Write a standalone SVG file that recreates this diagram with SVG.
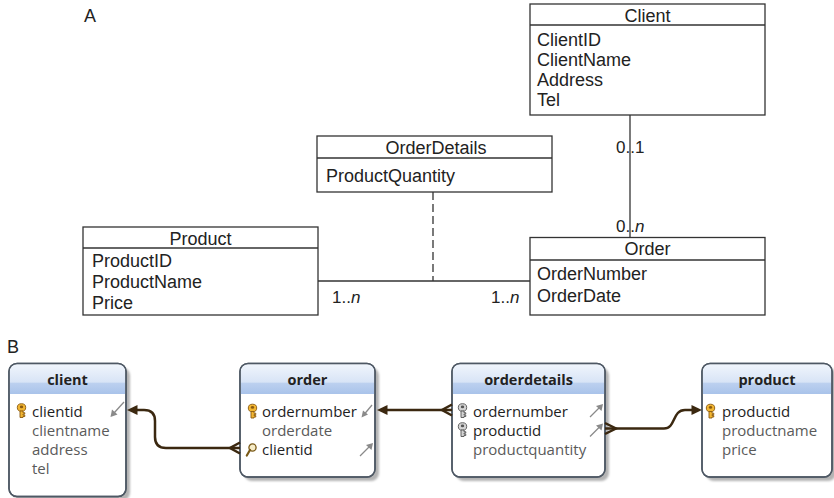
<svg xmlns="http://www.w3.org/2000/svg" width="834" height="498" viewBox="0 0 834 498">
  <style>
    .uml { fill: #ffffff; stroke: #333333; stroke-width: 1.3; }
    .umlline { stroke: #333333; stroke-width: 1.3; fill: none; }
    .ut { font-family: "Liberation Sans", Arial, sans-serif; font-size: 18px; fill: #222222; }
    .mult { font-family: "Liberation Sans", Arial, sans-serif; font-size: 17px; fill: #222222; }
    .panel { font-family: "Liberation Sans", Arial, sans-serif; font-size: 18px; fill: #222222; }
    .tbl { fill: #ffffff; stroke: #4e5864; stroke-width: 1.5; }
    .shadow { fill: #b4b4b4; filter: url(#soft); }
    .th { font-family: "Open Sans", "Noto Sans", sans-serif; font-size: 14.5px; font-weight: bold; fill: #222222; text-anchor: middle; }
    .fk { font-family: "Open Sans", "Noto Sans", sans-serif; font-size: 15px; fill: #1e1e1e; }
    .fd { font-family: "Open Sans", "Noto Sans", sans-serif; font-size: 15px; fill: #5a5a5a; }
    .rel { stroke: #3b2810; stroke-width: 2.5; fill: none; }
    .relhead { fill: #3b2810; }
    .hint { stroke: #8a8a8a; stroke-width: 1.3; fill: none; }
    .hinthead { fill: #8a8a8a; }
  </style>
  <defs>
    <filter id="soft" x="-10%" y="-10%" width="120%" height="120%">
      <feGaussianBlur stdDeviation="1.2"/>
    </filter>
    <linearGradient id="hdr" x1="0" y1="0" x2="0" y2="1">
      <stop offset="0" stop-color="#f0f5fc"/>
      <stop offset="0.6" stop-color="#d8e4f6"/>
      <stop offset="0.64" stop-color="#bcd0ef"/>
      <stop offset="1" stop-color="#a9c3ea"/>
    </linearGradient>
    <g id="key-gold">
      <ellipse cx="4.5" cy="4" rx="4.2" ry="3.8" fill="#f2b632" stroke="#8a5a10" stroke-width="0.9"/>
      <path d="M3 7.5 V14 H6 V13 H7.8 V11.6 H6 V10.6 H7.8 V9.2 H6 V7.5 Z" fill="#f2b632" stroke="#8a5a10" stroke-width="0.9"/>
      <ellipse cx="4.5" cy="3.4" rx="1.7" ry="1.3" fill="#8a5a10"/>
    </g>
    <g id="key-grey">
      <ellipse cx="4.5" cy="4" rx="4.2" ry="3.8" fill="#d4d4d4" stroke="#555555" stroke-width="0.9"/>
      <path d="M3 7.5 V14 H6 V13 H7.8 V11.6 H6 V10.6 H7.8 V9.2 H6 V7.5 Z" fill="#d4d4d4" stroke="#555555" stroke-width="0.9"/>
      <ellipse cx="4.5" cy="3.4" rx="1.7" ry="1.3" fill="#555555"/>
    </g>
    <g id="lens">
      <circle cx="6.5" cy="4.5" r="3.6" fill="#f6ecc8" stroke="#7a5a18" stroke-width="1.3"/>
      <path d="M4 7 L0.8 12.5" stroke="#7a5a18" stroke-width="2.2" stroke-linecap="round"/>
    </g>
  </defs>

  <rect width="834" height="498" fill="#ffffff"/>

  <!-- Panel A: UML class diagram -->
  <text class="panel" x="84" y="22">A</text>

  <g id="uml-connectors">
    <line class="umlline" x1="630" y1="115" x2="630" y2="237.5"/>
    <line class="umlline" x1="318" y1="281" x2="530" y2="281"/>
    <line class="umlline" x1="433" y1="192" x2="433" y2="281" stroke-dasharray="8 4"/>
    <text class="mult" x="616" y="153">0..1</text>
    <text class="mult" x="616" y="232">0..<tspan font-style="italic">n</tspan></text>
    <text class="mult" x="332" y="303">1..<tspan font-style="italic">n</tspan></text>
    <text class="mult" x="491" y="303">1..<tspan font-style="italic">n</tspan></text>
  </g>

  <g id="uml-client">
    <rect class="uml" x="530" y="4" width="235" height="111"/>
    <line class="umlline" x1="530" y1="25" x2="765" y2="25"/>
    <text class="ut" x="647.5" y="21.5" text-anchor="middle">Client</text>
    <text class="ut" x="537" y="46">ClientID</text>
    <text class="ut" x="537" y="66">ClientName</text>
    <text class="ut" x="537" y="86">Address</text>
    <text class="ut" x="537" y="106">Tel</text>
  </g>

  <g id="uml-orderdetails">
    <rect class="uml" x="317" y="136" width="235" height="56"/>
    <line class="umlline" x1="317" y1="158" x2="552" y2="158"/>
    <text class="ut" x="436" y="153.5" text-anchor="middle">OrderDetails</text>
    <text class="ut" x="326" y="181.5">ProductQuantity</text>
  </g>

  <g id="uml-product">
    <rect class="uml" x="83" y="227" width="235" height="88"/>
    <line class="umlline" x1="83" y1="248" x2="318" y2="248"/>
    <text class="ut" x="200.5" y="245" text-anchor="middle">Product</text>
    <text class="ut" x="92" y="267">ProductID</text>
    <text class="ut" x="92" y="287.5">ProductName</text>
    <text class="ut" x="92" y="308.5">Price</text>
  </g>

  <g id="uml-order">
    <rect class="uml" x="530" y="237.5" width="235" height="77.5"/>
    <line class="umlline" x1="530" y1="260" x2="765" y2="260"/>
    <text class="ut" x="647.5" y="254.5" text-anchor="middle">Order</text>
    <text class="ut" x="537" y="279.5">OrderNumber</text>
    <text class="ut" x="537" y="302">OrderDate</text>
  </g>

  <!-- Panel B: database table diagram -->
  <text class="panel" x="7" y="353">B</text>

  <g id="tbl-client">
    <rect class="shadow" x="13" y="367.5" width="117" height="133" rx="8"/>
    <rect class="tbl" x="9" y="363.5" width="117" height="133" rx="8"/>
    <path d="M9.75 394 V371.5 Q9.75 364.25 17 364.25 H118 Q125.25 364.25 125.25 371.5 V394 Z" fill="url(#hdr)"/>
    <rect x="9" y="363.5" width="117" height="133" rx="8" fill="none" stroke="#4e5864" stroke-width="1.5"/>
    <text class="th" x="67.5" y="385">client</text>
    <use href="#key-gold" x="17" y="403.5"/>
    <text class="fk" x="32" y="417">clientid</text>
    <text class="fd" x="32" y="436">clientname</text>
    <text class="fd" x="32" y="455">address</text>
    <text class="fd" x="32" y="473.5">tel</text>
    <line class="hint" x1="124" y1="402" x2="114" y2="413"/>
    <path class="hinthead" d="M110.5 417 L112 409.5 L117.5 414.5 Z"/>
  </g>

  <g id="tbl-order">
    <rect class="shadow" x="244" y="367.5" width="135" height="113.5" rx="8"/>
    <rect class="tbl" x="240" y="363.5" width="135" height="113.5" rx="8"/>
    <path d="M240.75 394 V371.5 Q240.75 364.25 248 364.25 H367 Q374.25 364.25 374.25 371.5 V394 Z" fill="url(#hdr)"/>
    <rect x="240" y="363.5" width="135" height="113.5" rx="8" fill="none" stroke="#4e5864" stroke-width="1.5"/>
    <text class="th" x="307.5" y="385">order</text>
    <use href="#key-gold" x="248" y="404"/>
    <text class="fk" x="262" y="417">ordernumber</text>
    <text class="fd" x="262" y="436">orderdate</text>
    <use href="#lens" x="246" y="443"/>
    <text class="fk" x="262" y="455">clientid</text>
    <line class="hint" x1="372" y1="405" x2="364.5" y2="414"/>
    <path class="hinthead" d="M361.5 417.5 L363 410.5 L368 414.5 Z"/>
    <line class="hint" x1="360" y1="456" x2="369.5" y2="446.5"/>
    <path class="hinthead" d="M373 443 L371.5 450 L366 445 Z"/>
  </g>

  <g id="tbl-orderdetails">
    <rect class="shadow" x="456" y="367.5" width="153" height="113.5" rx="8"/>
    <rect class="tbl" x="452" y="363.5" width="153" height="113.5" rx="8"/>
    <path d="M452.75 394 V371.5 Q452.75 364.25 460 364.25 H597 Q604.25 364.25 604.25 371.5 V394 Z" fill="url(#hdr)"/>
    <rect x="452" y="363.5" width="153" height="113.5" rx="8" fill="none" stroke="#4e5864" stroke-width="1.5"/>
    <text class="th" x="528.5" y="385">orderdetails</text>
    <use href="#key-grey" x="458" y="403.5"/>
    <text class="fk" x="473" y="417">ordernumber</text>
    <use href="#key-grey" x="458" y="422.5"/>
    <text class="fk" x="473" y="436">productid</text>
    <text class="fd" x="473" y="455">productquantity</text>
    <line class="hint" x1="590" y1="417" x2="599.5" y2="407.5"/>
    <path class="hinthead" d="M603 404 L601.5 411 L596 406 Z"/>
    <line class="hint" x1="590" y1="436.5" x2="599.5" y2="427"/>
    <path class="hinthead" d="M603 423.5 L601.5 430.5 L596 425.5 Z"/>
  </g>

  <g id="tbl-product">
    <rect class="shadow" x="706" y="367.5" width="130" height="113.5" rx="8"/>
    <rect class="tbl" x="702" y="363.5" width="130" height="113.5" rx="8"/>
    <path d="M702.75 394 V371.5 Q702.75 364.25 710 364.25 H824 Q831.25 364.25 831.25 371.5 V394 Z" fill="url(#hdr)"/>
    <rect x="702" y="363.5" width="130" height="113.5" rx="8" fill="none" stroke="#4e5864" stroke-width="1.5"/>
    <text class="th" x="767" y="385">product</text>
    <use href="#key-gold" x="706" y="404"/>
    <text class="fk" x="722" y="417">productid</text>
    <text class="fd" x="722" y="436">productname</text>
    <text class="fd" x="722" y="455">price</text>
  </g>

  <g id="relations">
    <!-- order.clientid -> client.clientid -->
    <path class="rel" d="M240 448 H166 Q155 448 155 437 V421 Q155 410 144 410 H135"/>
    <path class="rel" d="M240 442.5 L230 448 L240 453.5" stroke-width="2"/>
    <path class="relhead" d="M127 410 L137.5 405 L137.5 415 Z"/>
    <!-- orderdetails.ordernumber -> order.ordernumber -->
    <path class="rel" d="M452 410 H386"/>
    <path class="rel" d="M452 404.5 L442 410 L452 415.5" stroke-width="2"/>
    <path class="relhead" d="M377 410 L387.5 405 L387.5 415 Z"/>
    <!-- orderdetails.productid -> product.productid -->
    <path class="rel" d="M605 428.5 H664 C676 428.5 672 410 685 410 H694"/>
    <path class="rel" d="M605 423 L616 428.5 L605 434" stroke-width="2"/>
    <path class="relhead" d="M702 410 L691.5 405 L691.5 415 Z"/>
  </g>
</svg>
